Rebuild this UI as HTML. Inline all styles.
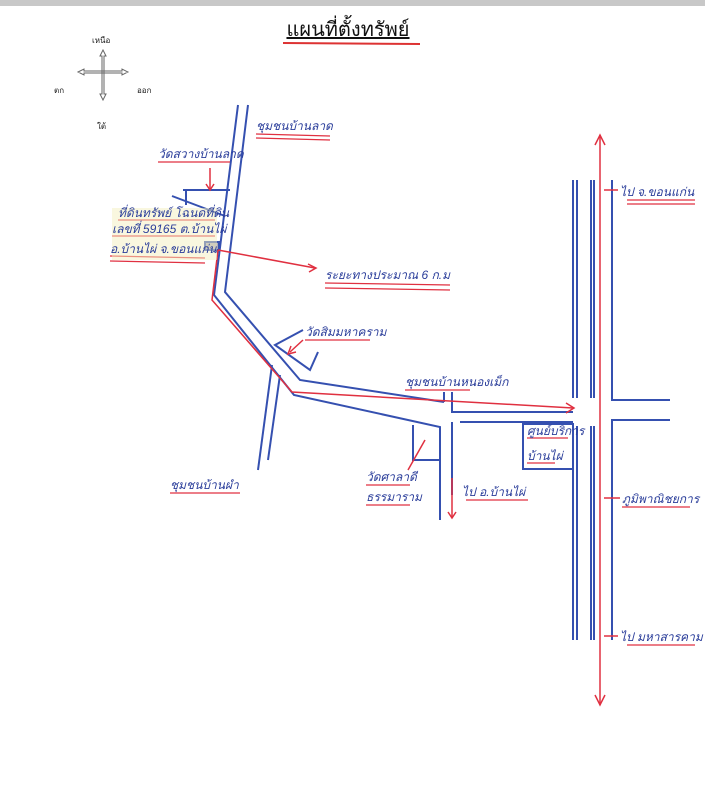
<!DOCTYPE html>
<html><head><meta charset="utf-8"><style>
body{margin:0;background:#fff;width:705px;height:800px;overflow:hidden}
svg{display:block}
.t{font-family:"Liberation Sans","Noto Sans CJK SC",sans-serif;fill:#2a3d9a;font-style:italic;font-size:12px}
.k{font-family:"Liberation Sans","Noto Sans CJK SC",sans-serif;fill:#222;font-size:8px}
</style></head><body>
<svg width="705" height="800" viewBox="0 0 705 800">
<rect x="0" y="0" width="705" height="6" fill="#c8c8c8"/>
<text x="348" y="36" text-anchor="middle" font-family="Liberation Sans,'Noto Sans CJK SC',sans-serif" font-size="20" fill="#111" text-decoration="underline">แผนที่ตั้งทรัพย์</text>
<line x1="283" y1="43" x2="420" y2="44" stroke="#d33" stroke-width="2"/>
<g stroke="#666" fill="none" stroke-width="1">
<path d="M103 50 L100 56 L102 56 L102 94 L100 94 L103 100 L106 94 L104 94 L104 56 L106 56 Z"/>
<path d="M78 72 L84 69 L84 71 L122 71 L122 69 L128 72 L122 75 L122 73 L84 73 L84 75 Z"/>
</g>
<text class="k" x="92" y="43">เหนือ</text>
<text class="k" x="54" y="93">ตก</text>
<text class="k" x="137" y="93">ออก</text>
<text class="k" x="97" y="129">ใต้</text>
<g stroke="#3550b0" stroke-width="2" fill="none">
<path d="M238 105 L214 295 L294 395 L440 427 L440 520"/>
<path d="M248 105 L225 292 L300 380 L444 402"/>
<line x1="444" y1="392" x2="444" y2="402"/>
<path d="M452 392 L452 412 L573 412"/>
<path d="M452 422 L452 495"/>
<path d="M460 422 L573 422"/>
<path d="M272 365 L258 470"/><path d="M280 375 L268 460"/>
<path d="M303 330 L275 345 L310 370 L318 352"/>
<path d="M413 425 L413 460 L440 460"/>
<path d="M183 190 L230 190"/><path d="M186 190 L186 205"/>
<path d="M172 196 L225 216"/>
<rect x="205" y="242" width="14" height="8" fill="#aab"/>
<path d="M573 180 L573 398"/><path d="M577 180 L577 398"/>
<path d="M573 426 L573 640"/><path d="M577 426 L577 640"/>
<path d="M591 180 L591 398"/><path d="M594 180 L594 398"/>
<path d="M591 426 L591 640"/><path d="M594 426 L594 640"/>
<path d="M612 180 L612 400 L670 400"/>
<path d="M670 420 L612 420 L612 640"/>
<rect x="523" y="424" width="50" height="45"/>
</g>
<g stroke="#e03040" stroke-width="1.5" fill="none">
<path d="M218 250 L212 300 L292 392 L573 408"/><path d="M566 403 L574 408 L566 413"/>
<path d="M218 250 L315 268"/><path d="M308 264 L316 268 L309 272"/>
<line x1="210" y1="168" x2="210" y2="190"/><path d="M206 184 L210 190 L214 184"/>
<path d="M303 340 L290 352"/><path d="M291 346 L288 354 L296 352"/>
<path d="M425 440 L408 470"/>
<line x1="452" y1="478" x2="452" y2="518"/><path d="M448 512 L452 518 L456 512"/>
<line x1="600" y1="135" x2="600" y2="705"/><path d="M595 145 L600 135 L605 145"/><path d="M595 695 L600 705 L605 695"/>
<line x1="604" y1="190" x2="618" y2="190"/><line x1="604" y1="636" x2="618" y2="636"/>
<line x1="604" y1="498" x2="620" y2="498"/>
</g>
<g stroke="#e03040" stroke-width="1.2">
<line x1="256" y1="134" x2="330" y2="136"/><line x1="256" y1="138" x2="330" y2="140"/>
<line x1="158" y1="162" x2="230" y2="162"/><line x1="118" y1="220" x2="215" y2="220"/>
<line x1="112" y1="236" x2="215" y2="236"/><line x1="110" y1="256" x2="205" y2="258"/>
<line x1="110" y1="261" x2="205" y2="263"/>
<line x1="325" y1="283" x2="450" y2="285"/><line x1="325" y1="288" x2="450" y2="290"/>
<line x1="305" y1="340" x2="370" y2="340"/><line x1="405" y1="390" x2="470" y2="390"/>
<line x1="170" y1="493" x2="240" y2="493"/><line x1="366" y1="485" x2="410" y2="485"/>
<line x1="366" y1="505" x2="410" y2="505"/><line x1="466" y1="500" x2="528" y2="500"/>
<line x1="627" y1="200" x2="695" y2="200"/><line x1="627" y1="204" x2="695" y2="204"/>
<line x1="622" y1="507" x2="690" y2="507"/><line x1="627" y1="645" x2="695" y2="645"/>
<line x1="527" y1="438" x2="568" y2="438"/><line x1="527" y1="463" x2="555" y2="463"/>
</g>
<rect x="112" y="208" width="105" height="52" fill="#f4f0c0" opacity="0.5"/>
<text class="t" x="256" y="130">ชุมชนบ้านลาด</text>
<text class="t" x="158" y="158" font-size="13">วัดสวางบ้านลาด</text>
<text class="t" x="118" y="217" font-size="11">ที่ดินทรัพย์ โฉนดที่ดิน</text>
<text class="t" x="112" y="233" font-size="11">เลขที่ 59165 ต.บ้านไผ่</text>
<text class="t" x="110" y="253" font-size="11">อ.บ้านไผ่ จ.ขอนแก่น</text>
<text class="t" x="325" y="279">ระยะทางประมาณ 6 ก.ม</text>
<text class="t" x="305" y="336">วัดสิมมหาคราม</text>
<text class="t" x="405" y="386" font-size="11">ชุมชนบ้านหนองเม็ก</text>
<text class="t" x="170" y="489">ชุมชนบ้านผำ</text>
<text class="t" x="366" y="481">วัดศาลาดี</text>
<text class="t" x="366" y="501">ธรรมาราม</text>
<text class="t" x="462" y="496">ไป อ.บ้านไผ่</text>
<text class="t" x="527" y="435" font-size="10">ศูนย์บริการ</text>
<text class="t" x="527" y="460" font-size="10">บ้านไผ่</text>
<text class="t" x="620" y="196">ไป จ.ขอนแก่น</text>
<text class="t" x="622" y="503">ภูมิพาณิชยการ</text>
<text class="t" x="620" y="641">ไป มหาสารคาม</text>
</svg>
</body></html>
